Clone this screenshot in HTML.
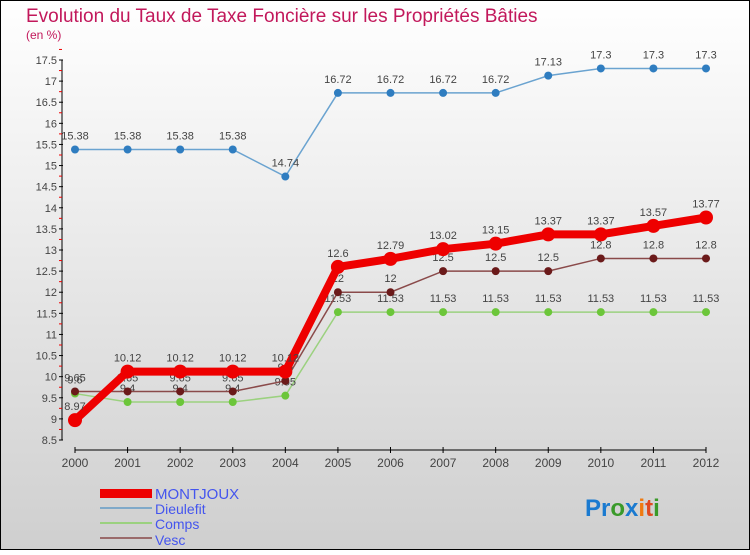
<!DOCTYPE html>
<html><head><meta charset="utf-8"><style>
body{margin:0}
#c{width:750px;height:550px;position:relative;font-family:"Liberation Sans",sans-serif;}
svg text{font-family:"Liberation Sans",sans-serif}
</style></head><body>
<div id="c">
<svg id="s" width="750" height="550">
<defs><linearGradient id="bg" x1="0" y1="0" x2="0" y2="1"><stop offset="0" stop-color="#ffffff"/><stop offset="1" stop-color="#cfcfcf"/></linearGradient></defs>
<rect x="0.5" y="0.5" width="749" height="549" fill="url(#bg)" stroke="#000"/>
<text x="26" y="22" font-size="19" fill="#c2185b">Evolution du Taux de Taxe Foncière sur les Propriétés Bâties</text>
<text x="26" y="39" font-size="12" fill="#c2185b">(en %)</text>
<g id="axes"></g><g id="series"></g>
<g>
<rect x="100" y="489" width="52" height="9" fill="#e00"/>
<text x="155" y="499" font-size="15" fill="#4455ee">MONTJOUX</text>
<rect x="100" y="507" width="52" height="2" fill="#7fa9c9"/>
<text x="155" y="514" font-size="14" fill="#4455ee">Dieulefit</text>
<rect x="100" y="522" width="52" height="2" fill="#9bd17f"/>
<text x="155" y="529" font-size="14" fill="#4455ee">Comps</text>
<rect x="100" y="537" width="52" height="2" fill="#9a6a6a"/>
<text x="155" y="545" font-size="14" fill="#4455ee">Vesc</text>
</g>
<text x="585" y="516" font-size="24" font-weight="bold"><tspan fill="#1a7ad0">Pr</tspan><tspan fill="#3a9a2a">o</tspan><tspan fill="#1a7ad0">x</tspan><tspan fill="#f07a10">i</tspan><tspan fill="#e04a20">t</tspan><tspan fill="#3a9a2a">i</tspan></text>
</svg></div>
<script>
const years=[2000,2001,2002,2003,2004,2005,2006,2007,2008,2009,2010,2011,2012];
const yTicks=[8.5,9,9.5,10,10.5,11,11.5,12,12.5,13,13.5,14,14.5,15,15.5,16,16.5,17,17.5];
const montjoux=[8.97,10.12,10.12,10.12,10.12,12.6,12.79,13.02,13.15,13.37,13.37,13.57,13.77];
const dieulefit=[15.38,15.38,15.38,15.38,14.74,16.72,16.72,16.72,16.72,17.13,17.3,17.3,17.3];
const comps=[9.6,9.4,9.4,9.4,9.55,11.53,11.53,11.53,11.53,11.53,11.53,11.53,11.53];
const vesc=[9.65,9.65,9.65,9.65,9.9,12,12,12.5,12.5,12.5,12.8,12.8,12.8];
const NS="http://www.w3.org/2000/svg";
const X=i=>75+(706-75)*i/(years.length-1);
const Y=v=>440-(v-8.5)*(380/9);
function mk(t,a,p){const e=document.createElementNS(NS,t);for(const k in a)e.setAttribute(k,a[k]);p.appendChild(e);return e;}
const ax=document.getElementById('axes');
const yl=mk('line',{x1:62,y1:Y(17.5),x2:62,y2:Y(8.5),stroke:'#000'},ax);


yTicks.forEach(v=>{
 mk('line',{x1:59,x2:63,y1:Y(v),y2:Y(v),stroke:'#000'},ax);
 mk('line',{x1:59,x2:62,y1:Y(v+0.25),y2:Y(v+0.25),stroke:'#e00'},ax);
 const t=mk('text',{x:57,y:Y(v)+4,'font-size':11,'text-anchor':'end',fill:'#444'},ax);
 t.textContent=v;
 
 
});
const xl=mk('line',{x1:75,x2:706,y1:450,y2:450,stroke:'#000'},ax);


years.forEach((y,i)=>{
 mk('line',{x1:X(i),x2:X(i),y1:447,y2:453,stroke:'#000'},ax);
 const t=mk('text',{x:X(i),y:467,'font-size':12,'text-anchor':'middle',fill:'#444'},ax);
 t.textContent=y;
 
 
});
const sg=document.getElementById('series');
function series(name,data,color,lw,r,dot){
 const g=mk('g',{},sg);
 
 
 mk('polyline',{points:data.map((v,i)=>X(i)+','+Y(v)).join(' '),fill:'none',stroke:color,'stroke-width':lw},g);
 data.forEach((v,i)=>{
  const c=mk('circle',{cx:X(i),cy:Y(v),r:r,fill:dot},g);
  
  
  const t=mk('text',{x:X(i),y:Y(v)-10,'font-size':11,'text-anchor':'middle',fill:'#444'},g);
  t.textContent=v;
  
  
 });
}
series('comps',comps,'#9bd17f',1.5,4,'#6cc63a');
series('vesc',vesc,'#8a4a4a',1.5,4,'#6b1a1a');
series('dieulefit',dieulefit,'#6aa3d0',1.5,4,'#2f7dc0');
series('montjoux',montjoux,'#ee0000',8,7,'#ee0000');
</script>
</body></html>
